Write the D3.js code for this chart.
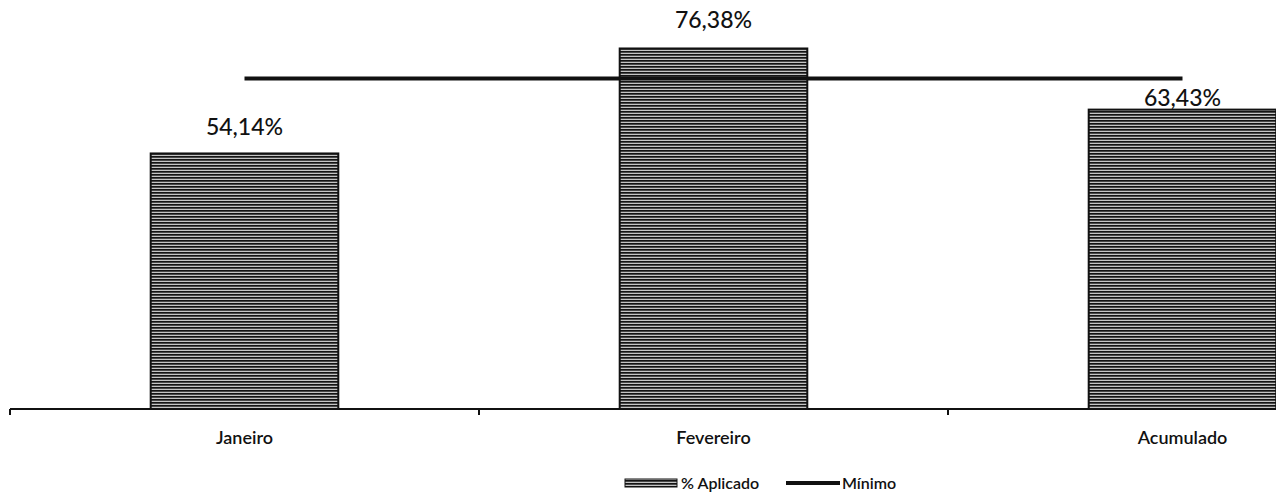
<!DOCTYPE html>
<html><head><meta charset="utf-8">
<script src="https://cdn.jsdelivr.net/npm/d3@7"></script>
<style>body{margin:0;background:#fff;overflow:hidden}svg{display:block}</style>
</head><body>
<svg id="c" width="1276" height="495"></svg>
<script>
const categories = ["Janeiro", "Fevereiro", "Acumulado"];
const aplicado = [54.14, 76.38, 63.43];
const minimo = [70, 70, 70];
const valueLabels = ["54,14%", "76,38%", "63,43%"];
const legendLabels = ["% Aplicado", "Mínimo"];

const svg = d3.select("#c");
const font = "Lato, 'Open Sans', sans-serif";

const defs = svg.append("defs");
const pat = defs.append("pattern").attr("id","stripes").attr("patternUnits","userSpaceOnUse")
  .attr("width",8).attr("height",3);
pat.append("rect").attr("width",8).attr("height",3).attr("fill","#c4c4c4");
pat.append("rect").attr("y",0).attr("width",8).attr("height",1.7).attr("fill","#141414");

const x = d3.scaleBand().domain(categories).range([10, 1417]).paddingInner(0.6).paddingOuter(0.3);
const y = d3.scaleLinear().domain([0, 100]).range([409, -63]);

// bars
svg.selectAll("rect.bar").data(aplicado).join("rect").attr("class","bar")
  .attr("x",(d,i)=>x(categories[i])).attr("width",x.bandwidth())
  .attr("y",d=>y(d)).attr("height",d=>y(0)-y(d))
  .attr("fill","url(#stripes)").attr("stroke","#111").attr("stroke-width",2);

// axis
const axisG = svg.append("g");
axisG.append("line").attr("x1",10).attr("x2",1417).attr("y1",y(0)).attr("y2",y(0))
  .attr("stroke","#111").attr("stroke-width",2);
[0,1,2,3].forEach(i=>{
  const tx = 10 + i*(1407/3);
  axisG.append("line").attr("x1",tx).attr("x2",tx).attr("y1",y(0)).attr("y2",y(0)+6)
    .attr("stroke","#111").attr("stroke-width",2);
});
svg.selectAll("text.cat").data(categories).join("text").attr("class","cat")
  .attr("x",d=>x(d)+x.bandwidth()/2).attr("y",444).attr("text-anchor","middle")
  .attr("font-family",font).attr("font-size",18).attr("font-weight",600).attr("fill","#111")
  .text(d=>d);

// minimum line
const line = d3.line().x((d,i)=>x(categories[i])+x.bandwidth()/2).y(d=>y(d));
svg.append("path").datum(minimo).attr("d",line).attr("fill","none")
  .attr("stroke","#111").attr("stroke-width",4);

// value labels
const dyExtra = [0, -2, 14];
svg.selectAll("text.val").data(aplicado).join("text").attr("class","val")
  .attr("x",(d,i)=>x(categories[i])+x.bandwidth()/2)
  .attr("y",(d,i)=>y(d)-18+dyExtra[i]).attr("text-anchor","middle")
  .attr("font-family",font).attr("font-size",23).attr("font-weight",500).attr("fill","#111")
  .text((d,i)=>valueLabels[i]);

// legend
const lg = svg.append("g");
lg.append("rect").attr("x",625).attr("y",479).attr("width",52).attr("height",8)
  .attr("fill","url(#stripes)").attr("stroke","#111").attr("stroke-width",1);
lg.append("text").attr("x",681).attr("y",489).attr("font-family",font).attr("font-size",16)
  .attr("font-weight",600).attr("fill","#111").text(legendLabels[0]);
lg.append("line").attr("x1",786).attr("x2",840).attr("y1",483).attr("y2",483)
  .attr("stroke","#111").attr("stroke-width",4);
lg.append("text").attr("x",842).attr("y",489).attr("font-family",font).attr("font-size",16)
  .attr("font-weight",600).attr("fill","#111").text(legendLabels[1]);
</script>
</body></html>
